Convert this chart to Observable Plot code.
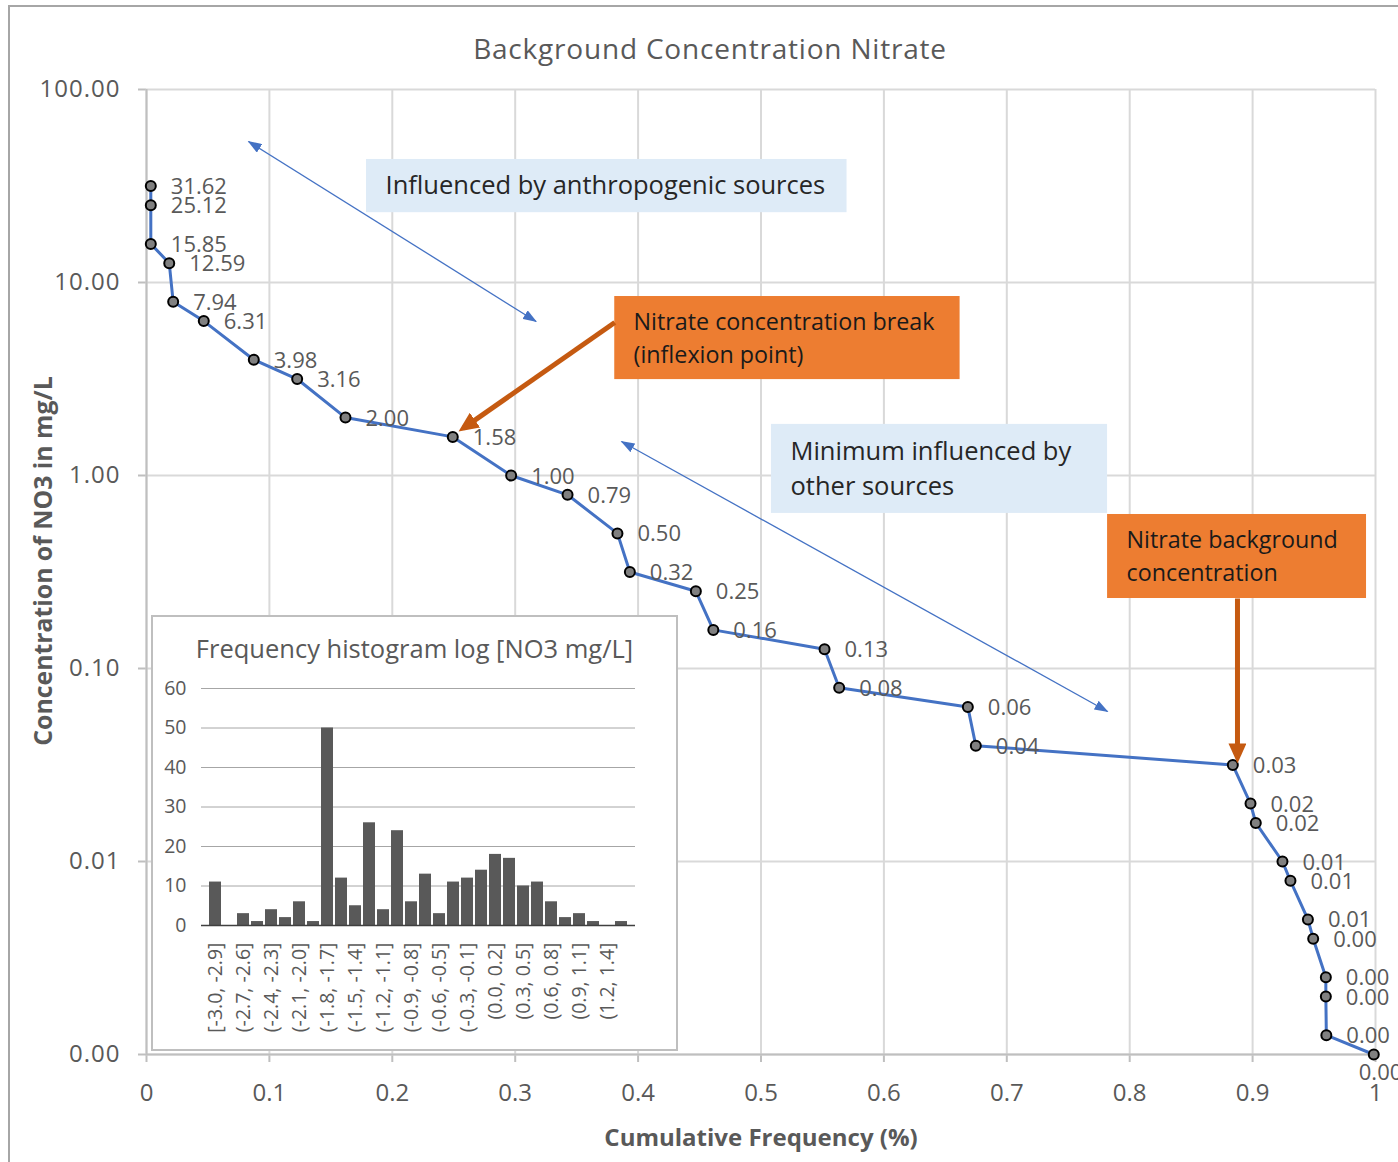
<!DOCTYPE html>
<html><head><meta charset="utf-8">
<script src="https://cdn.jsdelivr.net/npm/d3@7"></script>
<script src="https://cdn.jsdelivr.net/npm/@observablehq/plot@0.6"></script>
<style>
html,body{margin:0;padding:0;background:#fff;overflow:hidden;}
#wrap{position:relative;width:1398px;height:1162px;font-family:"Open Sans",sans-serif;overflow:hidden;}
#main{position:absolute;left:0;top:0;}
#frame{position:absolute;left:8px;top:5px;width:1400px;height:1170px;border-left:2px solid #a6a6a6;border-top:2px solid #a6a6a6;pointer-events:none;}
.ttl{position:absolute;color:#595959;text-align:center;white-space:nowrap;}
#title{left:410px;width:600px;top:28px;line-height:40px;font-size:28px;letter-spacing:0.8px;}
#xlab{left:461px;width:600px;top:1120px;line-height:34px;font-size:24px;font-weight:700;}
#ylab{left:-158px;width:400px;top:545px;line-height:32px;font-size:24.8px;font-weight:700;transform:rotate(-90deg);}
#inset{position:absolute;left:151px;top:615px;width:527px;height:436px;box-sizing:border-box;border:2px solid #bfbfbf;background:#fff;}
#insetTitle{left:0;width:100%;top:13px;line-height:36px;font-size:25.5px;}
#insetPlot{position:absolute;left:0;top:0;}
#main svg g[aria-label^="x-axis"] line, #main svg g[aria-label^="y-axis"] line,
#main svg g[aria-label="x-axis tick"] path, #main svg g[aria-label="y-axis tick"] path{stroke:#bfbfbf;stroke-width:2px;}
#main svg g[aria-label^="y-axis"] text{letter-spacing:1px;}
</style></head>
<body>
<div id="wrap">
  <div id="main"></div>
  <div id="title" class="ttl">Background Concentration Nitrate</div>
  <div id="xlab" class="ttl">Cumulative Frequency (%)</div>
  <div id="ylab" class="ttl">Concentration of NO3 in mg/L</div>
  <div id="inset"><div id="insetPlot"></div><div id="insetTitle" class="ttl">Frequency histogram log [NO3 mg/L]</div></div>
  <div id="frame"></div>
</div>
<script>
// ---- main series: cumulative frequency vs concentration (mg/L) ----
const cumFreq = [0.0035, 0.0035, 0.0035, 0.0185, 0.0217, 0.0466, 0.0873, 0.1226, 0.1619, 0.2492, 0.2967, 0.3426, 0.3832, 0.3933, 0.4470, 0.4612, 0.5517, 0.5636, 0.6683, 0.6748, 0.8839, 0.8983, 0.9026, 0.9243, 0.9308, 0.9450, 0.9493, 0.9596, 0.9596, 0.9600, 0.9986];
const concentration = [31.62, 25.12, 15.85, 12.59, 7.943, 6.310, 3.981, 3.162, 1.9953, 1.585, 1.000, 0.7943, 0.5012, 0.3162, 0.2512, 0.1585, 0.1259, 0.07943, 0.06310, 0.03981, 0.03162, 0.01995, 0.01585, 0.01000, 0.007943, 0.005012, 0.003981, 0.002512, 0.001995, 0.001259, 0.001000];
const xTicks = [0, 0.1, 0.2, 0.3, 0.4, 0.5, 0.6, 0.7, 0.8, 0.9, 1];
const yTicks = [0.001, 0.01, 0.1, 1, 10, 100];

// ---- annotations (data coordinates) ----
const boxLabels = ["Influenced by anthropogenic sources", "Nitrate concentration break\n(inflexion point)", "Minimum influenced by\nother sources", "Nitrate background\nconcentration"];
const boxKinds = ["blue", "orange", "blue", "orange"];
const boxX1 = [0.179, 0.381, 0.5085, 0.782];
const boxX2 = [0.570, 0.662, 0.782, 0.9927];
const boxYTop = [43.4, 8.46, 1.84, 0.628];
const boxYBottom = [23.0, 3.14, 0.636, 0.2305];
const boxTextX = [0.1945, 0.3963, 0.524, 0.7974];
const boxTextY = [33.0, 5.28, 1.12, 0.392];
const arrowKinds = ["blue", "blue", "orange", "orange"];
const arrowX1 = [0.083, 0.3865, 0.381, 0.8877];
const arrowY1 = [53.8, 1.5, 6.2, 0.2305];
const arrowX2 = [0.317, 0.782, 0.2579, 0.8877];
const arrowY2 = [6.28, 0.0599, 1.760, 0.0346];

// ---- inset histogram ----
const histBins = ["[-3.0, -2.9]", "(-2.9, -2.7]", "(-2.7, -2.6]", "(-2.6, -2.4]", "(-2.4, -2.3]", "(-2.3, -2.1]", "(-2.1, -2.0]", "(-2.0, -1.8]", "(-1.8, -1.7]", "(-1.7, -1.5]", "(-1.5, -1.4]", "(-1.4, -1.2]", "(-1.2, -1.1]", "(-1.1, -0.9]", "(-0.9, -0.8]", "(-0.8, -0.6]", "(-0.6, -0.5]", "(-0.5, -0.3]", "(-0.3, -0.1]", "(-0.1, 0.0]", "(0.0, 0.2]", "(0.2, 0.3]", "(0.3, 0.5]", "(0.5, 0.6]", "(0.6, 0.8]", "(0.8, 0.9]", "(0.9, 1.1]", "(1.1, 1.2]", "(1.2, 1.4]", "(1.4, 1.5]"];
const histCounts = [11, 0, 3, 1, 4, 2, 6, 1, 50, 12, 5, 26, 4, 24, 6, 13, 3, 11, 12, 14, 18, 17, 10, 11, 6, 2, 3, 1, 0, 1];
const histTicks = [0, 10, 20, 30, 40, 50, 60];

const FONT = '"Open Sans", sans-serif';
const fmt2 = d3.format(".2f");
const points = cumFreq.map((x, i) => ({x, y: concentration[i]}));
const last = points.length - 1;
const boxes = boxLabels.map((t, i) => ({t, kind: boxKinds[i], x1: boxX1[i], x2: boxX2[i], y1: boxYTop[i], y2: boxYBottom[i], tx: boxTextX[i], ty: boxTextY[i]}));
const arrows = arrowKinds.map((k, i) => ({kind: k, x1: arrowX1[i], y1: arrowY1[i], x2: arrowX2[i], y2: arrowY2[i]}));
const blueBoxes = boxes.filter(d => d.kind === "blue");
const orangeBoxes = boxes.filter(d => d.kind === "orange");

const main = Plot.plot({
  width: 1398, height: 1162,
  marginLeft: 146, marginRight: 23, marginTop: 89, marginBottom: 108,
  style: {fontFamily: FONT, fontSize: "24px", color: "#595959", background: "white"},
  x: {domain: [0, 1], ticks: xTicks, tickFormat: d => `${d}`, tickSize: 8, tickPadding: 21, label: null},
  y: {type: "log", domain: [0.001, 100], ticks: yTicks, tickFormat: fmt2, tickSize: 8, tickPadding: 18, label: null},
  marks: [
    Plot.ruleX(xTicks, {stroke: "#d9d9d9", strokeWidth: 2}),
    Plot.ruleY(yTicks, {stroke: "#d9d9d9", strokeWidth: 2}),
    Plot.ruleX([0], {stroke: "#bfbfbf", strokeWidth: 2}),
    Plot.ruleY([0.001], {stroke: "#bfbfbf", strokeWidth: 2}),
    Plot.line(points, {x: "x", y: "y", stroke: "#4472C4", strokeWidth: 3}),
    Plot.dot(points, {x: "x", y: "y", r: 5, fill: "#808080", stroke: "#000", strokeWidth: 2}),
    Plot.text(points, {filter: (d, i) => i < last, x: "x", y: "y", text: d => fmt2(d.y), dx: 20, dy: 1, textAnchor: "start", fontSize: 22, fill: "#595959"}),
    Plot.text(points, {filter: (d, i) => i === last, x: "x", y: "y", text: d => fmt2(d.y), dx: -15, dy: 18, textAnchor: "start", fontSize: 22, fill: "#595959"}),
    Plot.rect(blueBoxes, {x1: "x1", x2: "x2", y1: "y1", y2: "y2", fill: "#DEEBF7"}),
    Plot.rect(orangeBoxes, {x1: "x1", x2: "x2", y1: "y1", y2: "y2", fill: "#ED7D31"}),
    Plot.link(arrows.filter(d => d.kind === "blue"), {x1: "x1", y1: "y1", x2: "x2", y2: "y2", stroke: "#4472C4", strokeWidth: 1.3}),
    Plot.link(arrows.filter(d => d.kind === "orange"), {x1: "x1", y1: "y1", x2: "x2", y2: "y2", stroke: "#C55A11", strokeWidth: 5}),
    Plot.text(blueBoxes, {x: "tx", y: "ty", text: "t", textAnchor: "start", lineAnchor: "middle", lineHeight: 1.38, fontSize: 25.5, fill: "#262626"}),
    Plot.text(orangeBoxes, {x: "tx", y: "ty", text: "t", textAnchor: "start", lineAnchor: "middle", lineHeight: 1.42, fontSize: 23.3, fill: "#1a1a1a"})
  ]
});
document.getElementById("main").appendChild(main);

// filled arrowheads for the link marks
(function () {
  const svg = d3.select(main);
  const defs = svg.append("defs");
  defs.append("marker").attr("id", "ahBlue").attr("markerUnits", "userSpaceOnUse")
    .attr("viewBox", "0 0 14 10").attr("markerWidth", 14).attr("markerHeight", 10)
    .attr("refX", 13).attr("refY", 5).attr("orient", "auto-start-reverse")
    .append("path").attr("d", "M0,0L14,5L0,10Z").attr("fill", "#4472C4");
  defs.append("marker").attr("id", "ahOrange").attr("markerUnits", "userSpaceOnUse")
    .attr("viewBox", "0 0 20 18").attr("markerWidth", 20).attr("markerHeight", 18)
    .attr("refX", 14).attr("refY", 9).attr("orient", "auto-start-reverse")
    .append("path").attr("d", "M0,0L20,9L0,18Z").attr("fill", "#C55A11");
  const links = main.querySelectorAll('g[aria-label="link"]');
  if (links[0]) links[0].querySelectorAll("path").forEach(p => {
    p.setAttribute("marker-start", "url(#ahBlue)");
    p.setAttribute("marker-end", "url(#ahBlue)");
  });
  if (links[1]) links[1].querySelectorAll("path").forEach(p => {
    p.setAttribute("marker-end", "url(#ahOrange)");
  });
})();

const histData = histBins.map((b, i) => ({bin: b, count: histCounts[i]}));
const hist = Plot.plot({
  width: 523, height: 432,
  marginLeft: 48, marginRight: 41, marginTop: 71, marginBottom: 124,
  style: {fontFamily: FONT, fontSize: "19.5px", color: "#595959", background: "white"},
  x: {type: "band", domain: histBins, padding: 0.12, ticks: histBins.filter((d, i) => i % 2 === 0), tickRotate: -90, tickSize: 0, tickPadding: 17, label: null},
  y: {domain: [0, 60], ticks: histTicks, tickSize: 0, tickPadding: 15, label: null},
  marks: [
    Plot.ruleY(histTicks.slice(1), {stroke: "#a6a6a6", strokeWidth: 1}),
    Plot.barY(histData, {x: "bin", y: "count", fill: "#595959"}),
    Plot.ruleY([0], {stroke: "#404040", strokeWidth: 1.5})
  ]
});
document.getElementById("insetPlot").appendChild(hist);
</script>
</body></html>
